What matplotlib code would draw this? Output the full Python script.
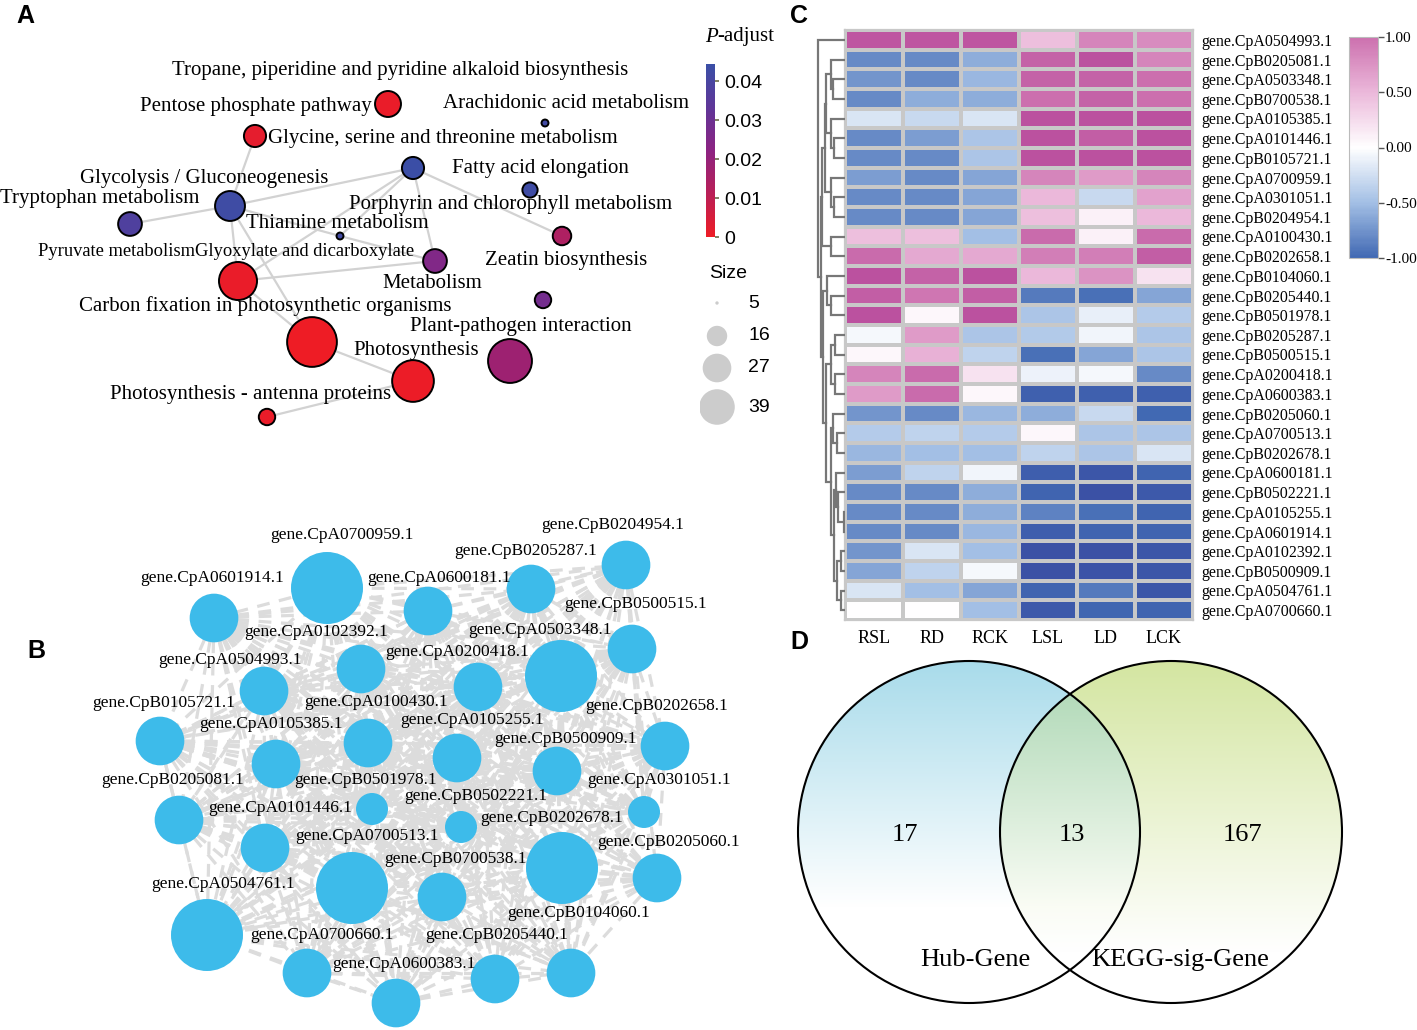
import numpy as np
import matplotlib
matplotlib.use("Agg")
import matplotlib.pyplot as plt
from matplotlib.colors import LinearSegmentedColormap, Normalize
from matplotlib.cm import ScalarMappable
from matplotlib.collections import LineCollection
from matplotlib.patches import Circle

W, H = 1417, 1030
SERIF = "Liberation Serif"
SANS = "Liberation Sans"

# ---------------- A: KEGG enrichment map ----------------
term_names = [
    "Tropane, piperidine and pyridine alkaloid biosynthesis",
    "Pentose phosphate pathway",
    "Arachidonic acid metabolism",
    "Glycine, serine and threonine metabolism",
    "Fatty acid elongation",
    "Glycolysis / Gluconeogenesis",
    "Tryptophan metabolism",
    "Porphyrin and chlorophyll metabolism",
    "Thiamine metabolism",
    "Pyruvate metabolismGlyoxylate and dicarboxylate",
    "Zeatin biosynthesis",
    "Metabolism",
    "Carbon fixation in photosynthetic organisms",
    "Plant-pathogen interaction",
    "Photosynthesis",
    "Photosynthesis - antenna proteins",
]
term_fs = [15] * 9 + [13.3] + [15] * 6

node_count = [23, 18, 6, 18, 11, 29, 20, 6, 14, 20, 44, 12, 72, 57, 52, 12]
node_padj = [0.001, 0.002, 0.042, 0.044, 0.043, 0.043, 0.038, 0.042,
             0.014, 0.025, 0.001, 0.028, 0.0001, 0.018, 0.0005, 0.001]
edges_a = [(1, 5), (5, 3), (5, 6), (5, 10), (5, 12), (5, 7), (7, 9), (3, 8),
           (3, 9), (3, 10), (3, 7), (10, 9), (10, 12), (12, 14), (14, 15)]
size_breaks = [5, 16, 27, 39]
padj_ticks = [0, 0.01, 0.02, 0.03, 0.04]

# layout (pixel positions of the enrichment map)
node_x = [388, 255, 545, 413, 530, 230, 130, 340, 562, 435, 238, 543, 312, 510, 413, 267]
node_y = [104, 136, 123, 168, 190, 206, 224, 236, 236, 261, 281, 300, 342, 361, 381, 417]
term_x = [172, 140, 443, 268, 452, 80, 0, 349, 246, 38, 485, 382, 79, 410, 353, 110]
term_y = [70, 106, 103, 138, 169, 178, 199, 205, 223, 251, 260, 284, 306, 326, 350, 394]

# ---------------- B: hub gene network ----------------
hub_labels = [
    "gene.CpA0700959.1", "gene.CpB0204954.1", "gene.CpB0205287.1", "gene.CpA0601914.1",
    "gene.CpA0600181.1", "gene.CpB0500515.1", "gene.CpA0102392.1", "gene.CpA0503348.1",
    "gene.CpA0200418.1", "gene.CpA0504993.1", "gene.CpB0105721.1", "gene.CpA0100430.1",
    "gene.CpB0202658.1", "gene.CpA0105385.1", "gene.CpA0105255.1", "gene.CpB0500909.1",
    "gene.CpB0205081.1", "gene.CpB0501978.1", "gene.CpA0301051.1", "gene.CpB0502221.1",
    "gene.CpA0101446.1", "gene.CpB0202678.1", "gene.CpA0700513.1", "gene.CpB0205060.1",
    "gene.CpB0700538.1", "gene.CpA0504761.1", "gene.CpB0104060.1", "gene.CpA0700660.1",
    "gene.CpB0205440.1", "gene.CpA0600383.1",
]
hub_lab_x = [270, 541, 454, 140, 367, 564, 244, 468, 385, 158, 92, 304, 585, 199, 400,
             494, 101, 294, 587, 404, 208, 480, 295, 597, 384, 151, 507, 250, 425, 332]
hub_lab_y = [535, 525, 551, 578, 578, 604, 632, 630, 652, 660, 703, 702, 706, 724, 720,
             739, 780, 780, 780, 796, 808, 818, 836, 842, 859, 884, 913, 935, 935, 964]
hub_degree = [22, 29, 22, 22, 22, 22, 22, 22, 29, 22, 22, 22, 22, 22, 22,
              22, 22, 17, 17, 17, 22, 29, 29, 22, 22, 29, 22, 22, 22, 22]
hub_x = [214, 327, 428, 531, 626, 632, 361, 478, 561, 264, 160, 276, 368, 457, 557,
         665, 179, 372, 461, 644, 265, 352, 562, 442, 657, 207, 307, 396, 495, 571]
hub_y = [618, 588, 611, 589, 565, 649, 669, 687, 676, 691, 741, 764, 743, 758, 771,
         746, 820, 809, 827, 812, 848, 888, 868, 897, 878, 935, 973, 1003, 979, 973]

# ---------------- C: expression heatmap ----------------
samples = ["RSL", "RD", "RCK", "LSL", "LD", "LCK"]
heat_genes = [
    "gene.CpA0504993.1", "gene.CpB0205081.1", "gene.CpA0503348.1", "gene.CpB0700538.1",
    "gene.CpA0105385.1", "gene.CpA0101446.1", "gene.CpB0105721.1", "gene.CpA0700959.1",
    "gene.CpA0301051.1", "gene.CpB0204954.1", "gene.CpA0100430.1", "gene.CpB0202658.1",
    "gene.CpB0104060.1", "gene.CpB0205440.1", "gene.CpB0501978.1", "gene.CpB0205287.1",
    "gene.CpB0500515.1", "gene.CpA0200418.1", "gene.CpA0600383.1", "gene.CpB0205060.1",
    "gene.CpA0700513.1", "gene.CpB0202678.1", "gene.CpA0600181.1", "gene.CpB0502221.1",
    "gene.CpA0105255.1", "gene.CpA0601914.1", "gene.CpA0102392.1", "gene.CpB0500909.1",
    "gene.CpA0504761.1", "gene.CpA0700660.1",
]
expr = np.array([
    [1.3, 1.3, 1.3, 0.45, 0.85, 0.8],
    [-0.8, -0.8, -0.6, 1.15, 1.35, 0.85],
    [-0.75, -0.8, -0.55, 1.15, 1.15, 1.0],
    [-0.8, -0.6, -0.6, 1.0, 1.15, 1.0],
    [-0.2, -0.3, -0.2, 1.35, 1.35, 1.35],
    [-0.8, -0.7, -0.45, 1.35, 1.2, 1.35],
    [-0.8, -0.8, -0.45, 1.35, 1.35, 1.35],
    [-0.7, -0.8, -0.65, 0.85, 0.7, 0.85],
    [-0.8, -0.8, -0.65, 0.5, -0.3, 0.65],
    [-0.8, -0.8, -0.65, 0.45, 0.1, 0.5],
    [0.45, 0.45, -0.5, 1.05, 0.1, 1.05],
    [1.05, 0.6, 0.6, 0.9, 0.9, 1.2],
    [1.35, 1.15, 1.35, 0.5, 0.75, 0.2],
    [1.2, 0.95, 1.2, -0.9, -0.95, -0.65],
    [1.35, 0.05, 1.35, -0.45, -0.12, -0.4],
    [-0.05, 0.7, -0.45, -0.42, -0.08, -0.45],
    [0.05, 0.55, -0.35, -0.95, -0.65, -0.45],
    [0.85, 1.05, 0.2, -0.1, -0.05, -0.8],
    [0.7, 1.05, 0.05, -1.15, -1.15, -1.15],
    [-0.75, -0.8, -0.55, -0.6, -0.3, -1.0],
    [-0.4, -0.35, -0.4, 0.05, -0.45, -0.45],
    [-0.55, -0.5, -0.5, -0.35, -0.45, -0.2],
    [-0.7, -0.35, -0.08, -1.2, -1.35, -1.1],
    [-0.8, -0.8, -0.6, -1.1, -1.45, -1.3],
    [-0.8, -0.8, -0.6, -0.85, -0.95, -1.1],
    [-0.8, -0.8, -0.55, -1.2, -1.1, -1.1],
    [-0.75, -0.2, -0.5, -1.45, -1.45, -1.35],
    [-0.65, -0.35, -0.05, -1.45, -1.4, -1.35],
    [-0.2, -0.5, -0.65, -1.1, -0.9, -1.35],
    [0.0, 0.0, -0.5, -1.3, -1.05, -1.1],
])
heat_ticks = [1.0, 0.5, 0.0, -0.5, -1.0]

# row clustering: (left, right, height), leaves are row indices
row_tree = (0, (
    ((((1, (2, 3, 32), 38), (4, (5, 6, 30), 38), 52), (7, (8, 9, 30), 38), 55),
     (10, 11, 38), 65),
    ((12, (13, 14, 38), 50),
     (((15, 16, 28), (17, 18, 28), 40),
      ((19, (20, 21, 22), 32),
       ((22, (23, (24, 25, 3), 20), 25), ((26, 27, 12), (28, 29, 12), 22), 30), 40),
      52), 62),
    67), 75)

# ---------------- D: Venn ----------------
venn_counts = [17, 13, 167]
venn_names = ["Hub-Gene", "KEGG-sig-Gene"]

# ======================================================
fig = plt.figure(figsize=(W / 100, H / 100), dpi=100)
fig.patch.set_facecolor("white")


def px_rect(x0, y0, w, h):
    return [x0 / W, 1 - (y0 + h) / H, w / W, h / H]


def px_axes(x0, y0, w, h):
    ax = fig.add_axes(px_rect(x0, y0, w, h))
    ax.set_xlim(x0, x0 + w)
    ax.set_ylim(y0 + h, y0)
    ax.axis("off")
    return ax


def count_to_r(n):
    return np.sqrt(9.2 * (np.asarray(n, dtype=float) - 4.8) + 1.0)


def r_to_s(r):
    return (2 * np.asarray(r) * 0.72) ** 2


for lab, (x, y) in zip("ABCD", [(16, 16), (27, 651), (790, 16), (790, 642)]):
    fig.text(x / W, 1 - y / H, lab, fontsize=18, fontweight="bold", family=SANS,
             ha="left", va="center")

# ---- panel A
axA = px_axes(0, 30, 700, 420)
padj_cmap = LinearSegmentedColormap.from_list(
    "padj", ["#ee1c25", "#b91f57", "#8c2382", "#5f3698", "#3a4fa6"])
padj_norm = Normalize(0, 0.0445)
for i, j in edges_a:
    axA.plot([node_x[i], node_x[j]], [node_y[i], node_y[j]], color="#d2d2d2",
             lw=1.6, zorder=1, solid_capstyle="round")
axA.scatter(node_x, node_y, s=r_to_s(count_to_r(node_count)), c=node_padj,
            cmap=padj_cmap, norm=padj_norm, edgecolors="black", linewidths=1.4, zorder=2)
for name, x, y, fs in zip(term_names, term_x, term_y, term_fs):
    axA.text(x, y, name, family=SERIF, fontsize=fs, ha="left", va="center", zorder=3)

# P-adjust legend
fig.text(705 / W, 1 - 37 / H, "P", family=SERIF, fontsize=15, style="italic",
         ha="left", va="center")
fig.text(717 / W, 1 - 37 / H, "-adjust", family=SERIF, fontsize=15, ha="left", va="center")
caxA = fig.add_axes(px_rect(706, 64, 9, 173))
cbA = fig.colorbar(ScalarMappable(padj_norm, padj_cmap), cax=caxA, ticks=padj_ticks)
cbA.outline.set_visible(False)
cbA.ax.set_yticklabels(["0", "0.01", "0.02", "0.03", "0.04"])
cbA.ax.tick_params(length=3, width=1.2, color="#6b6b4a", labelsize=14, pad=4)
for t in cbA.ax.get_yticklabels():
    t.set_family(SANS)

# Size legend
axL = px_axes(700, 260, 100, 180)
axL.text(709, 273, "Size", family=SANS, fontsize=14, ha="left", va="center")
leg_y = [303, 336, 368, 407]
axL.scatter([717] * 4, leg_y, s=r_to_s(count_to_r(size_breaks)), color="#cccccc",
            edgecolors="none")
for v, y in zip(size_breaks, leg_y):
    axL.text(748, y, str(v), family=SANS, fontsize=14, ha="left", va="center")

# ---- panel B
axB = px_axes(0, 500, 770, 530)
pts = list(zip(hub_x, hub_y))
segs = [[pts[i], pts[j]] for i in range(len(pts)) for j in range(i + 1, len(pts))]
axB.add_collection(LineCollection(segs, colors="#dcdcdc", linewidths=2.3,
                                  linestyles=(0, (4, 3)), zorder=1))
hub_r = 16 + (np.array(hub_degree) - 17) * 20 / 12
for x, y, r in zip(hub_x, hub_y, hub_r):
    axB.add_patch(Circle((x, y), r, facecolor="#3dbbea", edgecolor="none", zorder=2))
for name, x, y in zip(hub_labels, hub_lab_x, hub_lab_y):
    axB.text(x, y, name, family=SERIF, fontsize=12.5, ha="left", va="center", zorder=3)

# ---- panel C
heat_cmap = LinearSegmentedColormap.from_list(
    "heat", [(0.0, "#3a4ea4"), (1 / 6, "#4169b3"), (2 / 6, "#a3bfe5"), (0.5, "#ffffff"),
             (4 / 6, "#ebb8da"), (5 / 6, "#cc70ae"), (1.0, "#b44599")])
heat_norm = Normalize(-1.5, 1.5)
axC = fig.add_axes(px_rect(845, 30, 348, 590))
axC.pcolormesh(np.arange(7), np.arange(31), expr, cmap=heat_cmap, norm=heat_norm,
               edgecolors="#c8c8c8", linewidth=1.6)
axC.set_xlim(0, 6)
axC.set_ylim(30, 0)
for s in axC.spines.values():
    s.set_color("#c8c8c8")
    s.set_linewidth(1.6)
axC.yaxis.tick_right()
axC.set_yticks(np.arange(30) + 0.5)
axC.set_yticklabels(heat_genes, family=SERIF, fontsize=11.4)
axC.set_xticks(np.arange(6) + 0.5)
axC.set_xticklabels(samples, family=SERIF, fontsize=13)
axC.tick_params(length=0, pad=6)
axC.tick_params(axis="x", pad=7)

# dendrogram
axD = fig.add_axes(px_rect(815, 30, 30, 590))
axD.set_xlim(83, 0)
axD.set_ylim(30, 0)
axD.axis("off")


def draw_tree(node):
    if isinstance(node, int):
        return node + 0.5, 0
    left, right, h = node
    yl, hl = draw_tree(left)
    yr, hr = draw_tree(right)
    axD.plot([hl, h, h, hr], [yl, yl, yr, yr], color="#777777", lw=1.6,
             solid_joinstyle="miter")
    return (yl + yr) / 2, h


draw_tree(row_tree)

caxC = fig.add_axes(px_rect(1349, 37, 29, 221))
cbC = fig.colorbar(ScalarMappable(heat_norm, heat_cmap), cax=caxC,
                   boundaries=np.linspace(-1, 1, 201), ticks=heat_ticks)
cbC.outline.set_edgecolor("#bbbbbb")
cbC.ax.set_yticklabels([f"{v:.2f}" for v in heat_ticks])
cbC.ax.tick_params(length=4, width=1, color="#555555", labelsize=11, pad=1)
for t in cbC.ax.get_yticklabels():
    t.set_family(SERIF)

# ---- panel D
x0, y0, w, h = 760, 650, 600, 370
axV = px_axes(x0, y0, w, h)
cl, cr, cy, rad = (969, 832), (1171, 832), 832, 171
xx, yy = np.meshgrid(np.arange(x0, x0 + w) + 0.5, np.arange(y0, y0 + h) + 0.5)
t = np.clip((yy - (cy - rad)) / (2 * rad), 0, 1)
in_l = (xx - cl[0]) ** 2 + (yy - cy) ** 2 <= rad ** 2
in_r = (xx - cr[0]) ** 2 + (yy - cy) ** 2 <= rad ** 2
blue_top = np.array([0.66, 0.86, 0.92])
green_top = np.array([0.83, 0.90, 0.63])
fl = np.clip(t / 0.72, 0, 1)[..., None]
fr = np.clip(t / 0.85, 0, 1)[..., None]
col_l = blue_top * (1 - fl) + fl
col_r = green_top * (1 - fr) + fr
img = np.ones((h, w, 3))
img[in_l] = col_l[in_l]
img[in_r] = col_r[in_r]
both = in_l & in_r
img[both] = (col_l * col_r)[both] * 0.4 + ((col_l + col_r) / 2)[both] * 0.6
axV.imshow(img, extent=(x0, x0 + w, y0 + h, y0), interpolation="bilinear", zorder=0)
axV.set_xlim(x0, x0 + w)
axV.set_ylim(y0 + h, y0)
axV.add_patch(Circle(cl, rad, fill=False, edgecolor="black", lw=1.5, zorder=2))
axV.add_patch(Circle(cr, rad, fill=False, edgecolor="black", lw=1.5, zorder=2))
for v, x in zip(venn_counts, [905, 1072, 1242]):
    axV.text(x, 835, str(v), family=SERIF, fontsize=19, ha="center", va="center", zorder=3)
for name, x in zip(venn_names, [975, 1180]):
    axV.text(x, 960, name, family=SERIF, fontsize=19, ha="center", va="center", zorder=3)

fig.savefig("out.png", dpi=100, facecolor="white")
